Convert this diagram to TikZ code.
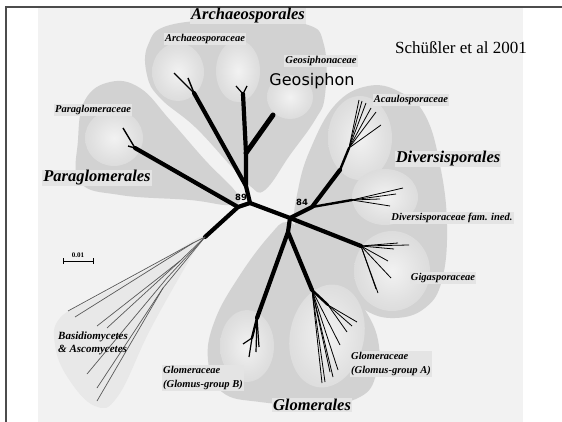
\documentclass[tikz,border=0pt]{standalone}
\usepackage{fontspec}
\setmainfont{Liberation Serif}
\newfontfamily\handfont{DejaVu Sans}
\usetikzlibrary{positioning}

\definecolor{panelgray}{HTML}{F2F2F2}
\definecolor{blobgray}{HTML}{D2D2D2}
\definecolor{faintgray}{HTML}{E8E8E8}
\definecolor{famin}{HTML}{F2F2F2}
\definecolor{fammid}{HTML}{E0E0E0}
\definecolor{famout}{HTML}{CBCBCB}
\definecolor{boxgray}{HTML}{E4E4E4}
\pgfdeclareradialshading{famshade}{\pgfpointorigin}{color(0bp)=(famin); color(20bp)=(fammid); color(50bp)=(famout)}

\tikzset{
  blob/.style={fill=blobgray},
  faint/.style={fill=faintgray},
  clade/.style={shading=famshade},
  trunk/.style={line width=4.2, line cap=round, line join=round},
  bough/.style={line width=2.4, line cap=round},
  twig/.style={line width=0.8},
  fungi/.style={line width=0.7, draw=black!65},
  order/.style={fill=boxgray, inner sep=1pt, font=\fontsize{16.5}{17}\selectfont\bfseries\itshape},
  family/.style={fill=boxgray, inner sep=1pt, font=\fontsize{10.5}{14.5}\selectfont\bfseries\itshape},
  boot/.style={inner sep=0pt, font=\handfont\bfseries\fontsize{8.5}{8.5}\selectfont},
}

\begin{document}
\begin{tikzpicture}[x=1pt,y=-1pt]
\useasboundingbox (0,0) rectangle (562,422);
\fill[panelgray] (38,8) rectangle (523,422);
\draw[line width=1.4, black!70] (6,422) -- (6,7) -- (562,7);

% shaded orders
\fill[faint] plot[smooth cycle, tension=0.7] coordinates {(203,236) (150,268) (95,298) (60,318) (55,345) (68,378) (95,406) (118,396) (150,330) (188,262)};
\fill[blob] plot[smooth cycle, tension=0.7] coordinates {(78,140) (85,100) (110,82) (140,88) (170,120) (205,160) (238,195) (230,205) (190,200) (120,195) (80,182)};
\fill[blob] plot[smooth cycle, tension=0.7] coordinates {(148,45) (170,25) (240,20) (305,24) (324,45) (325,95) (315,120) (290,155) (265,190) (250,186) (230,165) (195,127) (160,98) (147,75)};
\fill[blob] plot[smooth cycle, tension=0.7] coordinates {(368,86) (400,92) (425,115) (440,165) (447,225) (442,280) (425,308) (395,318) (365,310) (340,285) (310,250) (295,225) (298,190) (310,150) (335,105)};
\fill[blob] plot[smooth cycle, tension=0.7] coordinates {(287,222) (305,235) (335,270) (362,305) (378,340) (376,375) (360,397) (320,405) (260,402) (222,392) (208,360) (215,320) (240,275) (270,235)};

% families
\shade[clade] (114,138) ellipse [x radius=29, y radius=28];
\shade[clade] (178,72) ellipse [x radius=26, y radius=29];
\shade[clade] (238,71) ellipse [x radius=22, y radius=31];
\shade[clade] (290,97) ellipse [x radius=23, y radius=22];
\shade[clade] (360,138) ellipse [x radius=32, y radius=42];
\shade[clade] (385,197) ellipse [x radius=33, y radius=28];
\shade[clade] (392,271) ellipse [x radius=38, y radius=40];
\shade[clade] (247,346) ellipse [x radius=27, y radius=36];
\shade[clade, rotate around={-12:(327,336)}] (327,336) ellipse [x radius=37, y radius=52];

% tree
\coordinate (j0) at (238,207);
\coordinate (j1) at (250,203);
\coordinate (j2) at (290,218);
\coordinate (j3) at (312,207);
\coordinate (j4) at (288,232);
\coordinate (pg) at (135,148);
\coordinate (ba) at (205,237);
\coordinate (ar) at (246,186);
\coordinate (gs) at (246,153);
\coordinate (am) at (243,94);
\coordinate (al) at (194,93);
\coordinate (geo) at (273,115);
\coordinate (ac0) at (340,170);
\coordinate (ac1) at (349,148);
\coordinate (dv) at (352,200);
\coordinate (gg) at (361,246);
\coordinate (gb) at (257,318);
\coordinate (gb1) at (252,338);
\coordinate (ga) at (312,290);
\coordinate (ga1) at (328,305);

\draw[trunk] (pg) -- (j0) -- (j1) -- (j2) -- (j3) -- (ac0);
\draw[trunk] (j0) -- (ba);
\draw[trunk] (j1) -- (ar) -- (gs) -- (am);
\draw[trunk] (ar) -- (al);
\draw[trunk, line width=5] (gs) -- (geo);
\draw[trunk] (j2) -- (gg);
\draw[trunk] (j2) -- (j4) -- (gb);
\draw[trunk] (j4) -- (ga);
\draw[bough] (ac0) -- (ac1);
\draw[bough] (j3) -- (dv);
\draw[bough] (gb) -- (gb1);
\draw[bough] (ga) -- (ga1);

\foreach \n/\x/\y in {1/123/128, 2/128/146} {
  \coordinate (pgt\n) at (\x,\y);
  \draw[twig, line width=1.4] (pg) -- (pgt\n);
}
\foreach \n/\x/\y in {1/174/73, 2/188/78} {
  \coordinate (alt\n) at (\x,\y);
  \draw[twig, line width=1.4] (al) -- (alt\n);
}
\foreach \n/\x/\y in {1/236/86, 2/247/86} {
  \coordinate (amt\n) at (\x,\y);
  \draw[twig, line width=1.2] (am) -- (amt\n);
}
\foreach \n/\x/\y in {1/359/100, 2/362/101, 3/366/103, 4/371/108, 5/376/112, 6/381/125} {
  \coordinate (act\n) at (\x,\y);
  \draw[twig] (ac1) -- (act\n);
}
\foreach \n/\x/\y in {1/403/188, 2/396/194, 3/390/206, 4/380/199} {
  \coordinate (dvt\n) at (\x,\y);
  \draw[twig] (dv) -- (dvt\n);
}
\foreach \n/\x/\y in {1/409/245, 2/398/243, 3/394/249, 4/378/293, 5/376/289, 6/391/278, 7/388/261} {
  \coordinate (ggt\n) at (\x,\y);
  \draw[twig] (gg) -- (ggt\n);
}
\foreach \n/\x/\y in {1/243/344, 2/249/357} {
  \coordinate (gbt\n) at (\x,\y);
  \draw[twig, line width=1.2] (gb1) -- (gbt\n);
}
\foreach \n/\x/\y in {3/256/352, 4/259/347} {
  \coordinate (gbt\n) at (\x,\y);
  \draw[twig, line width=1.2] (gb) -- (gbt\n);
}
\foreach \n/\x/\y in {1/357/322, 2/352/326, 3/347/332} {
  \coordinate (gat\n) at (\x,\y);
  \draw[twig] (ga1) -- (gat\n);
}
\foreach \n/\x/\y in {4/340/345, 5/322/383, 6/325/382, 7/333/377, 8/338/370, 9/330/372} {
  \coordinate (gat\n) at (\x,\y);
  \draw[twig] (ga) -- (gat\n);
}

% outgroup
\coordinate (bb1) at (193,243);
\coordinate (bb2) at (180,261);
\coordinate (bb3) at (167,278);
\coordinate (bb4) at (163,288);
\foreach \b in {bb1,bb2,bb3,bb4} \draw[fungi] (ba) -- (\b);
\foreach \b/\n/\x/\y in {bb1/1/68/311, bb1/2/75/317, bb2/3/97/326, bb2/4/107/328, bb3/5/87/374, bb4/6/97/388, bb4/7/97/401} {
  \coordinate (bat\n) at (\x,\y);
  \draw[fungi] (\b) -- (bat\n);
}

% scale bar
\coordinate (sbl) at (63,261);
\coordinate (sbm) at (78,261);
\coordinate (sbr) at (93,261);
\draw[line width=0.9] (sbl) -- (sbr);
\draw[line width=0.9] ([yshift=3pt]sbl) -- ([yshift=-3pt]sbl);
\draw[line width=0.9] ([yshift=3pt]sbr) -- ([yshift=-3pt]sbr);
\node[inner sep=0pt, above=3pt of sbm, font=\fontsize{7}{7}\selectfont\bfseries] (scale) {0.01};

% labels
\node[order] (arch) at (248,16) {Archaeosporales};
\node[order] (para) at (97,178) {Paraglomerales};
\node[order] (dive) at (448,159) {Diversisporales};
\node[order] (glom) at (312,405) {Glomerales};
\node[family] (archf) at (205,39) {Archaeosporaceae};
\node[family] (geof) at (321,61) {Geosiphonaceae};
\node[family] (paraf) at (93,110) {Paraglomeraceae};
\node[family] (acauf) at (411,100) {Acaulosporaceae};
\node[family] (divef) at (452,218) {Diversisporaceae fam. ined.};
\node[family] (gigaf) at (443,278) {Gigasporaceae};
\node[family, align=left, anchor=west] (glomA) at (350,364) {Glomeraceae\\(Glomus-group A)};
\node[family, align=left, anchor=west] (glomB) at (162,378) {Glomeraceae\\(Glomus-group B)};
\node[family, fill=none, align=left, anchor=west, font=\fontsize{11}{13}\selectfont\bfseries\itshape] (basid) at (57,343) {Basidiomycetes\\\& Ascomycetes};
\node[inner sep=0pt, font=\handfont\fontsize{16}{16}\selectfont] (geosiph) at (312,81) {Geosiphon};
\node[inner sep=0pt, font=\fontsize{17}{17}\selectfont] (cite) at (461,48) {Schüßler et al 2001};
\node[boot] (b89) at (241,197) {89};
\node[boot] (b84) at (302,202) {84};
\end{tikzpicture}
\end{document}
